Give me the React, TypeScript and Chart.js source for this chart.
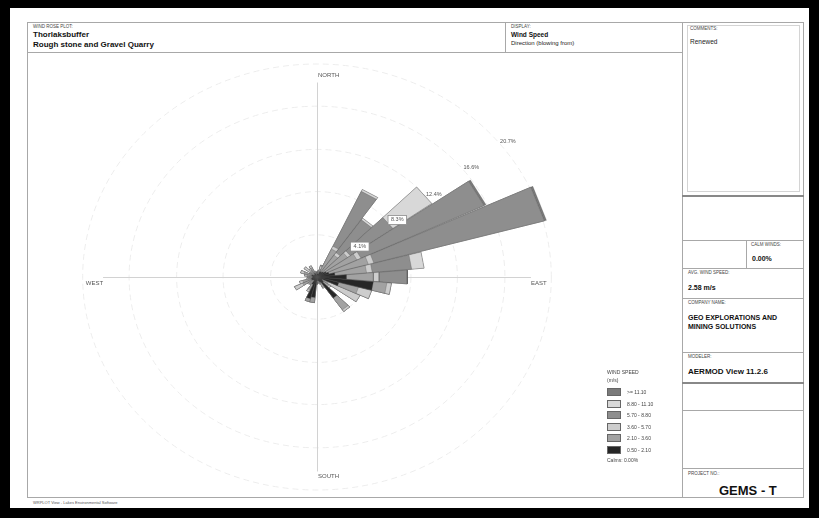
import React, { useEffect, useRef } from 'react';
import { Chart, registerables } from 'chart.js';

Chart.register(...registerables);

// ---------------- DATA ----------------
const directions = [10, 20, 30, 40, 50, 60, 70, 80, 90, 100, 110, 120, 130, 140, 150, 160, 170, 180, 190, 200, 210, 220, 230, 240, 250, 260, 270, 280, 290, 300, 310, 320, 330, 340, 350, 360];

const speedBins = ['0.50 - 2.10', '2.10 - 3.60', '3.60 - 5.70', '5.70 - 8.80', '8.80 - 11.10', '>= 11.10'];
const binColors = ['#262626', '#a2a2a2', '#cdcdcd', '#8e8e8e', '#d8d8d8', '#7a7a7a'];

// frequency (%) per direction for each wind-speed class
const bin0_5_2_1 = [0.2, 0.3, 0.6, 0.6, 0.7, 0.9, 1.1, 1.6, 2.6, 5.0, 2.0, 0.5, 0.7, 2.5, 0.6, 0.4, 0.3, 0.4, 2.0, 2.2, 0.8, 0.4, 0.4, 0.5, 0.5, 0.4, 0.3, 0.4, 0.5, 0.3, 0.2, 0.3, 0.4, 0.2, 0.2, 0.2];
const bin2_1_3_6 = [0.3, 0.5, 2.4, 2.0, 2.6, 3.0, 3.6, 2.8, 2.4, 1.2, 1.8, 0.6, 0.6, 1.4, 0.5, 0.3, 0.2, 0.3, 0.5, 0.3, 0.6, 0.4, 0.5, 0.9, 0.8, 0.4, 0.4, 0.5, 0.7, 0.4, 0.5, 0.5, 0.6, 0.3, 0.2, 0.3];
const bin3_6_5_7 = [0.1, 0.3, 0.3, 0.3, 0.3, 0.4, 0.5, 0.5, 0.5, 0.4, 1.2, 3.1, 0.2, 0.2, 0.1, 0.0, 0.0, 0.0, 0.0, 0.0, 0.2, 0.1, 0.1, 0.8, 0.3, 0.1, 0.1, 0.2, 0.3, 0.0, 0.7, 0.2, 0.2, 0.1, 0.0, 0.0];
const bin5_7_8_8 = [0.0, 0.1, 5.9, 3.9, 4.6, 12.0, 15.6, 3.5, 2.5, 0.0, 0.0, 0.0, 0.0, 0.0, 0.0, 0.0, 0.0, 0.0, 0.0, 0.0, 0.0, 0.0, 0.0, 0.0, 0.0, 0.0, 0.0, 0.0, 0.0, 0.0, 0.0, 0.0, 0.0, 0.0, 0.0, 0.0];
const bin8_8_11_1 = [0.0, 0.0, 0.2, 0.2, 4.2, 0.0, 0.0, 1.1, 0.0, 0.0, 0.0, 0.0, 0.0, 0.0, 0.0, 0.0, 0.0, 0.0, 0.0, 0.0, 0.0, 0.0, 0.0, 0.0, 0.0, 0.0, 0.0, 0.0, 0.0, 0.0, 0.0, 0.0, 0.0, 0.0, 0.0, 0.0];
const bin11_1_up = [0.0, 0.0, 0.0, 0.0, 0.0, 0.2, 0.2, 0.0, 0.0, 0.0, 0.0, 0.0, 0.0, 0.0, 0.0, 0.0, 0.0, 0.0, 0.0, 0.0, 0.0, 0.0, 0.0, 0.0, 0.0, 0.0, 0.0, 0.0, 0.0, 0.0, 0.0, 0.0, 0.0, 0.0, 0.0, 0.0];

const binSeries = [bin0_5_2_1, bin2_1_3_6, bin3_6_5_7, bin5_7_8_8, bin8_8_11_1, bin11_1_up];

const ringValues = [4.1, 8.3, 12.4, 16.6, 20.7];
const ringLabels = ['4.1%', '8.3%', '12.4%', '16.6%', '20.7%'];
const compassLabels = ['NORTH', 'EAST', 'SOUTH', 'WEST'];
const calmsText = 'Calms: 0.00%';

// ---------------- LAYOUT ----------------
const PLOT = { left: 28, top: 53, width: 652, height: 444 };
const CENTER = { x: 317, y: 277 };
const PX_X = 11.32;
const PX_Y = 10.29;
const PETAL_HALF = 4.8; // degrees
const AXIS_LEN = 18.9;
const LABEL_DIR = 52;
const FONT = '"Liberation Sans", Arial, sans-serif';

function buildDatasets() {
  const sets: any[] = [];
  for (let k = 0; k < binSeries.length; k++) {
    const pts: { x: number; y: number }[] = [];
    directions.forEach((d, i) => {
      let r = 0;
      for (let j = 0; j <= k; j++) r += binSeries[j][i];
      const a1 = ((d - PETAL_HALF) * Math.PI) / 180;
      const a2 = ((d + PETAL_HALF) * Math.PI) / 180;
      pts.push({ x: 0, y: 0 });
      pts.push({ x: r * Math.sin(a1), y: r * Math.cos(a1) });
      pts.push({ x: r * Math.sin(a2), y: r * Math.cos(a2) });
    });
    pts.push({ x: 0, y: 0 });
    sets.push({
      label: speedBins[k],
      data: pts,
      showLine: true,
      fill: 'shape',
      backgroundColor: binColors[k],
      borderColor: 'rgba(80,80,80,0.5)',
      borderWidth: 0.6,
      pointRadius: 0,
      tension: 0,
    });
  }
  return sets;
}

const decorPlugin = {
  id: 'roseDecor',
  beforeDatasetsDraw(chart: any) {
    const { ctx } = chart;
    const xs = chart.scales.x;
    const ys = chart.scales.y;
    const cx = xs.getPixelForValue(0);
    const cy = ys.getPixelForValue(0);
    ctx.save();
    // rings
    ctx.strokeStyle = '#ededed';
    ctx.lineWidth = 1;
    ctx.setLineDash([6, 4]);
    ringValues.forEach((v) => {
      const rx = xs.getPixelForValue(v) - cx;
      const ry = cy - ys.getPixelForValue(v);
      ctx.beginPath();
      ctx.ellipse(cx, cy, rx, ry, 0, 0, Math.PI * 2);
      ctx.stroke();
    });
    ctx.setLineDash([]);
    // axes
    ctx.strokeStyle = '#d2d2d2';
    ctx.lineWidth = 1;
    const top = ys.getPixelForValue(AXIS_LEN);
    const bottom = ys.getPixelForValue(-AXIS_LEN);
    const left = xs.getPixelForValue(-AXIS_LEN);
    const right = xs.getPixelForValue(AXIS_LEN);
    ctx.beginPath();
    ctx.moveTo(Math.round(cx) + 0.5, top);
    ctx.lineTo(Math.round(cx) + 0.5, bottom);
    ctx.moveTo(left, Math.round(cy) + 0.5);
    ctx.lineTo(right, Math.round(cy) + 0.5);
    ctx.stroke();
    // compass labels
    ctx.fillStyle = '#555';
    ctx.font = `6px ${FONT}`;
    ctx.textAlign = 'left';
    ctx.textBaseline = 'bottom';
    ctx.fillText(compassLabels[0], cx + 1, top - 4);
    ctx.textBaseline = 'top';
    ctx.fillText(compassLabels[2], cx + 1, bottom + 2);
    ctx.textBaseline = 'middle';
    ctx.fillText(compassLabels[1], right, cy + 6);
    ctx.textAlign = 'right';
    ctx.fillText(compassLabels[3], left, cy + 6);
    ctx.restore();
  },
  afterDatasetsDraw(chart: any) {
    const { ctx } = chart;
    const xs = chart.scales.x;
    const ys = chart.scales.y;
    const a = (LABEL_DIR * Math.PI) / 180;
    ctx.save();
    ctx.font = `5.5px ${FONT}`;
    ctx.textAlign = 'center';
    ctx.textBaseline = 'middle';
    ringValues.forEach((v, i) => {
      const r = v + 0.7;
      const px = xs.getPixelForValue(r * Math.sin(a));
      const py = ys.getPixelForValue(r * Math.cos(a));
      const w = ctx.measureText(ringLabels[i]).width + 6;
      const h = 9;
      if (i < 2) {
        ctx.fillStyle = '#ffffff';
        ctx.fillRect(px - w / 2, py - h / 2, w, h);
        ctx.strokeStyle = '#8a8a8a';
        ctx.lineWidth = 0.8;
        ctx.strokeRect(px - w / 2, py - h / 2, w, h);
      }
      ctx.fillStyle = '#555';
      ctx.fillText(ringLabels[i], px, py);
    });
    ctx.restore();
  },
};

function RoseChart() {
  const ref = useRef<HTMLCanvasElement | null>(null);
  useEffect(() => {
    if (!ref.current) return;
    const chart = new Chart(ref.current, {
      type: 'scatter',
      data: { datasets: buildDatasets() },
      options: {
        animation: false,
        responsive: false,
        events: [],
        layout: { padding: 0 },
        plugins: { legend: { display: false }, tooltip: { enabled: false } },
        scales: {
          x: {
            type: 'linear',
            display: false,
            min: -(CENTER.x - PLOT.left) / PX_X,
            max: (PLOT.left + PLOT.width - CENTER.x) / PX_X,
          },
          y: {
            type: 'linear',
            display: false,
            min: -(PLOT.top + PLOT.height - CENTER.y) / PX_Y,
            max: (CENTER.y - PLOT.top) / PX_Y,
          },
        },
      },
      plugins: [decorPlugin],
    });
    return () => chart.destroy();
  }, []);
  return (
    <canvas
      ref={ref}
      width={PLOT.width}
      height={PLOT.height}
      style={{ position: 'absolute', left: PLOT.left, top: PLOT.top, width: PLOT.width, height: PLOT.height }}
    />
  );
}

const line = (x: number, y: number, w: number, h: number, color = '#a8a8a8') => (
  <div style={{ position: 'absolute', left: x, top: y, width: w, height: h, background: color }} />
);

const T = (x: number, y: number, text: string, size: number, bold = false, color = '#222') => (
  <div
    style={{
      position: 'absolute',
      left: x,
      top: y,
      fontSize: size,
      fontWeight: bold ? 700 : 400,
      fontFamily: FONT,
      color,
      lineHeight: 1,
      whiteSpace: 'nowrap',
    }}
  >
    {text}
  </div>
);

export default function App() {
  const legendRows = speedBins.map((b, i) => ({ label: b, color: binColors[i] })).reverse();
  return (
    <div style={{ position: 'absolute', left: 0, top: 0, width: 819, height: 518, background: '#000', overflow: 'hidden' }}>
      <div style={{ position: 'absolute', left: 10, top: 8, width: 799, height: 500, background: '#fff' }} />
      {/* frame lines */}
      {line(27, 22, 777, 1)}
      {line(27, 22, 1, 476)}
      {line(27, 497, 777, 1)}
      {line(803, 22, 1, 476)}
      {line(27, 52, 655, 1)}
      {line(505, 22, 1, 31)}
      {line(682, 22, 1, 476)}
      {/* right column */}
      {line(687, 25, 113, 1, '#d4d4d4')}
      {line(687, 25, 1, 166, '#d4d4d4')}
      {line(799, 25, 1, 166, '#d4d4d4')}
      {line(687, 191, 113, 1, '#d4d4d4')}
      {line(682, 195, 122, 2, '#888')}
      {line(682, 240, 122, 1)}
      {line(746, 240, 1, 28)}
      {line(682, 268, 122, 1)}
      {line(682, 298, 122, 1)}
      {line(682, 352, 122, 1)}
      {line(682, 382, 122, 2, '#888')}
      {line(682, 410, 122, 1)}
      {line(682, 468, 122, 1)}

      <RoseChart />

      {/* title block texts */}
      {T(33, 25, 'WIND ROSE PLOT:', 4.5, false, '#444')}
      {T(33, 31, 'Thorlaksbuffer', 8, true, '#111')}
      {T(33, 41, 'Rough stone and Gravel Quarry', 8, true, '#111')}
      {T(511, 25, 'DISPLAY:', 4.5, false, '#444')}
      {T(511, 32, 'Wind Speed', 6.5, true, '#111')}
      {T(511, 40, 'Direction (blowing from)', 6, false, '#222')}
      {T(690, 27, 'COMMENTS:', 4.5, false, '#444')}
      {T(690, 39, 'Renewed', 6.5, false, '#222')}
      {T(751, 243, 'CALM WINDS:', 4.5, false, '#444')}
      {T(752, 255, '0.00%', 7, true, '#111')}
      {T(688, 271, 'AVG. WIND SPEED:', 4.5, false, '#444')}
      {T(688, 284, '2.58 m/s', 7, true, '#111')}
      {T(688, 301, 'COMPANY NAME:', 4.5, false, '#444')}
      {T(688, 314, 'GEO EXPLORATIONS AND', 7, true, '#111')}
      {T(688, 323, 'MINING SOLUTIONS', 7, true, '#111')}
      {T(688, 355, 'MODELER:', 4.5, false, '#444')}
      {T(688, 368, 'AERMOD View 11.2.6', 8, true, '#111')}
      {T(688, 472, 'PROJECT NO.:', 4.5, false, '#444')}
      {T(719, 484, 'GEMS - T', 13, true, '#111')}
      {T(33, 501, 'WRPLOT View - Lakes Environmental Software', 4, false, '#555')}

      {/* legend */}
      {T(607, 370, 'WIND SPEED', 5, false, '#444')}
      {T(607, 378, '(m/s)', 5, false, '#444')}
      {legendRows.map((r, i) => (
        <React.Fragment key={r.label}>
          <div
            style={{
              position: 'absolute',
              left: 607,
              top: 388 + i * 11.5,
              width: 14,
              height: 8,
              background: r.color,
              border: '1px solid #666',
              boxSizing: 'border-box',
            }}
          />
          {T(627, 390 + i * 11.5, r.label, 5, false, '#444')}
        </React.Fragment>
      ))}
      {T(607, 458, calmsText, 5, false, '#444')}
    </div>
  );
}
